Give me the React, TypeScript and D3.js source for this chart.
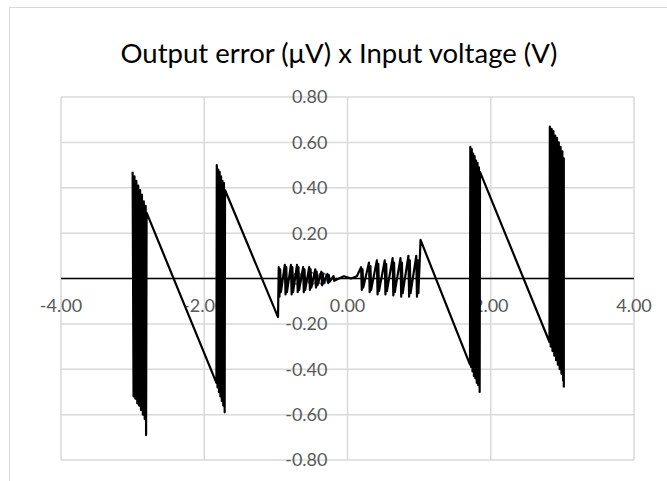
import React from 'react'
import * as d3 from 'd3'

type Pt = [number, number]

const title = 'Output error (μV) x Input voltage (V)'

const xTicks = [-4, -2, 0, 2, 4]
const xTickLabels = ['-4.00', '-2.00', '0.00', '2.00', '4.00']
const yTicks = [0.8, 0.6, 0.4, 0.2, 0, -0.2, -0.4, -0.6, -0.8]
const yTickLabels = ['0.80', '0.60', '0.40', '0.20', '0.00', '-0.20', '-0.40', '-0.60', '-0.80']

// fast burst near -3 V
const burstA: Pt[] = [
  [-3.0, 0.47], [-2.987, -0.52], [-2.974, 0.45], [-2.961, -0.53], [-2.948, 0.43],
  [-2.935, -0.55], [-2.922, 0.41], [-2.909, -0.56], [-2.896, 0.39], [-2.883, -0.58],
  [-2.87, 0.37], [-2.857, -0.6], [-2.844, 0.34], [-2.831, -0.62], [-2.818, 0.32],
  [-2.812, -0.69], [-2.805, 0.29]
]
const rampA: Pt[] = [[-2.805, 0.29], [-1.83, -0.46]]

const burstB: Pt[] = [
  [-1.83, -0.46], [-1.825, 0.5], [-1.815, -0.48], [-1.805, 0.48], [-1.795, -0.5],
  [-1.785, 0.47], [-1.775, -0.52], [-1.765, 0.45], [-1.755, -0.54], [-1.745, 0.43],
  [-1.735, -0.56], [-1.725, 0.42], [-1.715, -0.59], [-1.71, 0.39]
]
const rampB: Pt[] = [[-1.71, 0.39], [-0.97, -0.17]]

// small ripple left of zero
const rippleNeg: Pt[] = [
  [-0.96, 0.05], [-0.95, -0.08], [-0.94, 0.04], [-0.93, -0.06],
  [-0.875, 0.06], [-0.865, -0.07], [-0.855, 0.05], [-0.845, -0.06],
  [-0.79, 0.06], [-0.78, -0.07], [-0.77, 0.05], [-0.76, -0.06],
  [-0.705, 0.06], [-0.695, -0.06], [-0.685, 0.05], [-0.675, -0.05],
  [-0.62, 0.05], [-0.61, -0.06], [-0.6, 0.04], [-0.59, -0.05],
  [-0.535, 0.05], [-0.525, -0.05], [-0.515, 0.04], [-0.505, -0.04],
  [-0.45, 0.04], [-0.44, -0.04], [-0.43, 0.03], [-0.42, -0.03],
  [-0.365, 0.03], [-0.355, -0.03], [-0.345, 0.02], [-0.335, -0.02],
  [-0.28, 0.02], [-0.27, -0.02], [-0.26, 0.015], [-0.25, -0.015],
  [-0.195, 0.01], [-0.185, -0.01]
]
const flat: Pt[] = [[-0.12, 0.0], [-0.05, 0.01], [0.05, 0.0], [0.13, 0.01]]
// small ripple right of zero
const ripplePos: Pt[] = [
  [0.19, 0.05], [0.2, -0.05], [0.21, 0.04], [0.22, -0.04],
  [0.3, 0.07], [0.31, -0.06], [0.32, 0.055], [0.33, -0.05],
  [0.41, 0.08], [0.42, -0.07], [0.43, 0.065], [0.44, -0.055],
  [0.52, 0.08], [0.53, -0.07], [0.54, 0.065], [0.55, -0.055],
  [0.63, 0.09], [0.64, -0.075], [0.65, 0.07], [0.66, -0.06],
  [0.74, 0.09], [0.75, -0.08], [0.76, 0.07], [0.77, -0.065],
  [0.85, 0.1], [0.86, -0.08], [0.87, 0.08], [0.88, -0.065],
  [0.96, 0.1], [0.97, -0.08], [0.98, 0.08], [0.99, -0.065],
  [1.02, 0.17]
]
const rampC: Pt[] = [[1.02, 0.17], [1.71, -0.38]]

const burstC: Pt[] = [
  [1.71, -0.38], [1.715, 0.58], [1.725, -0.39], [1.735, 0.57], [1.745, -0.41],
  [1.755, 0.55], [1.765, -0.43], [1.775, 0.54], [1.785, -0.44], [1.795, 0.52],
  [1.805, -0.46], [1.815, 0.51], [1.825, -0.47], [1.835, 0.49], [1.845, -0.5],
  [1.85, 0.47]
]
const rampD: Pt[] = [[1.85, 0.47], [2.82, -0.28]]

const burstD: Pt[] = [
  [2.82, -0.28], [2.825, 0.67], [2.837, -0.3], [2.85, 0.66], [2.862, -0.32],
  [2.875, 0.65], [2.887, -0.34], [2.9, 0.63], [2.912, -0.36], [2.925, 0.62],
  [2.937, -0.38], [2.95, 0.6], [2.962, -0.4], [2.975, 0.58], [2.987, -0.42],
  [3.0, 0.56], [3.01, -0.45], [3.02, 0.53], [3.02, -0.48]
]

const series: Pt[] = [
  ...burstA, ...rampA, ...burstB, ...rampB, ...rippleNeg, ...flat,
  ...ripplePos, ...rampC, ...burstC, ...rampD, ...burstD
]

const W = 667
const H = 481
const font = 'Lato, "Open Sans", sans-serif'
const labelColor = '#595959'
const gridColor = '#d9d9d9'

export default function App() {
  const x = d3.scaleLinear().domain([-4, 4]).range([61, 634])
  const y = d3.scaleLinear().domain([-0.8, 0.8]).range([460, 97])

  const line = d3
    .line<Pt>()
    .x(d => x(d[0]))
    .y(d => y(d[1]))

  return (
    <svg
      width={W}
      height={H}
      style={{ position: 'absolute', left: 0, top: 0, background: '#fff' }}
    >
      <rect x={9.5} y={7.5} width={W + 20} height={H + 20} fill="#fff" stroke={gridColor} />

      <text
        x={339}
        y={63}
        textAnchor="middle"
        fontFamily={font}
        fontSize={27.5}
        fill="#000"
      >
        {title}
      </text>

      {/* gridlines */}
      {yTicks.map(t => (
        <line
          key={'gy' + t}
          x1={x(-4)}
          x2={x(4)}
          y1={y(t)}
          y2={y(t)}
          stroke={gridColor}
          strokeWidth={1.5}
        />
      ))}
      {xTicks.map(t => (
        <line
          key={'gx' + t}
          x1={x(t)}
          x2={x(t)}
          y1={y(0.8)}
          y2={y(-0.8)}
          stroke={gridColor}
          strokeWidth={1.5}
        />
      ))}

      {/* y labels next to the vertical axis */}
      {yTicks.map((t, i) => (
        <text
          key={'ly' + t}
          x={x(0) - 20}
          y={y(t)}
          dy="0.36em"
          textAnchor="end"
          fontFamily={font}
          fontSize={18}
          fill={labelColor}
        >
          {yTickLabels[i]}
        </text>
      ))}

      {/* x labels under the horizontal axis */}
      {xTicks.map((t, i) => (
        <text
          key={'lx' + t}
          x={x(t)}
          y={y(0) + 33}
          textAnchor="middle"
          fontFamily={font}
          fontSize={18}
          fill={labelColor}
        >
          {xTickLabels[i]}
        </text>
      ))}

      <path
        d={line(series) || ''}
        fill="none"
        stroke="#000"
        strokeWidth={2.2}
        strokeLinejoin="round"
      />

      <line x1={x(-4)} x2={x(4)} y1={y(0)} y2={y(0)} stroke="#000" strokeWidth={1.5} />
    </svg>
  )
}
